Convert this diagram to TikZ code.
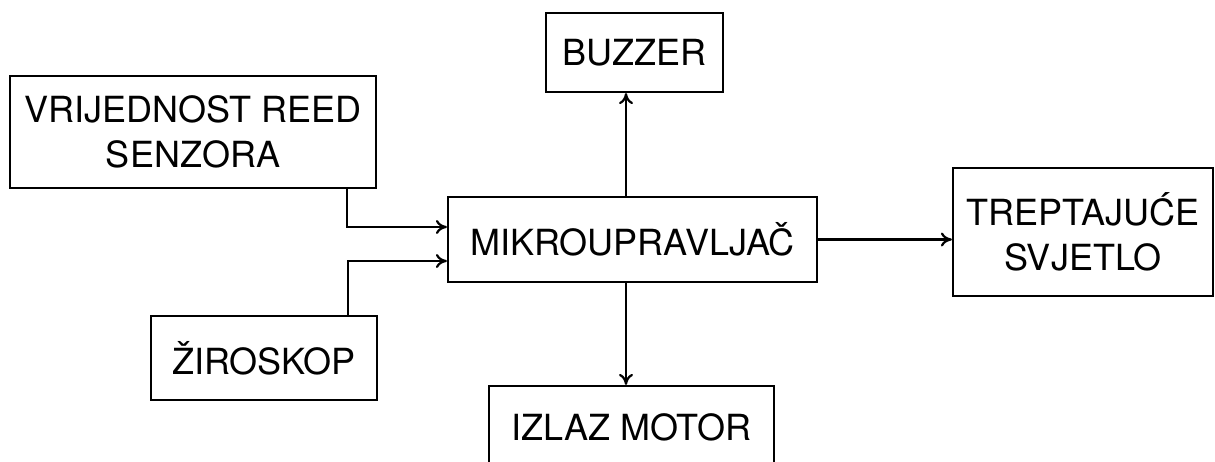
\documentclass[tikz,border=0pt]{standalone}
\usepackage{fontspec}
\setmainfont{TeX Gyre Heros}
\usetikzlibrary{arrows.meta}
\tikzset{
  blok/.style={draw, line width=1.1pt, inner sep=0pt, align=center,
    font=\fontsize{18}{22.5}\selectfont},
  veza/.style={line width=1.1pt, -{To[length=5.5pt,width=7pt]}}
}

\begin{document}
\begin{tikzpicture}[x=0.5pt,y=-0.5pt]
\useasboundingbox (0,0) rectangle (1215,461);
% blokovi
\node[blok, minimum width=183pt, minimum height=56pt] (reed) at (193,132) {VRIJEDNOST REED\\SENZORA};
\node[blok, minimum width=113pt, minimum height=42pt] (gyro) at (264,358) {ŽIROSKOP};
\node[blok, minimum width=184.5pt, minimum height=42.5pt] (mcu) at (632.5,239.5) {MIKROUPRAVLJAČ};
\node[blok, minimum width=88.5pt, minimum height=39.5pt] (buzzer) at (634.5,52.5) {BUZZER};
\node[blok, minimum width=130pt, minimum height=64pt] (light) at (1083,232) {TREPTAJUĆE\\SVJETLO};
\node[blok, minimum width=142.5pt, minimum height=41pt] (motor) at (631.5,427) {IZLAZ MOTOR};
% tocke za veze
\coordinate (reedout) at (347,0);
\coordinate (gyroout) at (348,0);
\coordinate (in1) at (0,227);
\coordinate (in2) at (0,261);
\coordinate (spine) at (626,0);
% veze
\draw[veza] (reed.south -| reedout) |- (mcu.west |- in1);
\draw[veza] (gyro.north -| gyroout) |- (mcu.west |- in2);
\draw[veza] (mcu.north -| spine) -- (buzzer.south -| spine);
\draw[veza] (mcu.south -| spine) -- (motor.north -| spine);
\draw[veza] (mcu.east) -- (light.west |- mcu.east);
\end{tikzpicture}
\end{document}
